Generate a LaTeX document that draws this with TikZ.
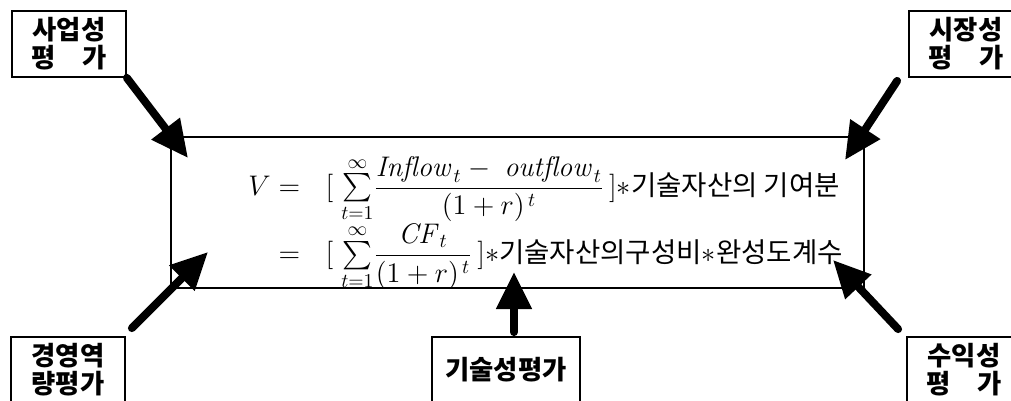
\documentclass[tikz,border=0pt]{standalone}
\usepackage{amsmath}
\usepackage{fontspec}
\newfontfamily\kr{Noto Sans CJK KR}
\newcommand{\krtext}[1]{\text{\kr\fontsize{14}{16}\selectfont #1}}
\usetikzlibrary{arrows.meta}

\begin{document}
\begin{tikzpicture}[x=0.02cm,y=-0.02cm]
	\tikzstyle{evalbox}=[draw, line width=1pt, align=center, inner sep=0pt, font=\kr\bfseries\fontsize{15}{16}\selectfont, minimum width=2.28cm, minimum height=1.32cm]
	\tikzstyle{bigarrow}=[line width=4.5pt, line cap=round, -{Triangle[length=0.74cm, width=0.68cm]}]
	\useasboundingbox (0,0) rectangle (1011,400);
	\node (main) [draw, line width=1pt, minimum width=13.86cm, minimum height=3.02cm] at (517.5,212.5) {};
	\node (formula) [anchor=west, inner sep=0pt, scale=1.12, transform shape, font=\fontsize{14.4}{17}\selectfont] at (248,223) {$\begin{aligned}
		V &= \hspace{9pt}[\;{\textstyle\sum\limits_{t=1}^{\infty}}\frac{\mathit{Inflow}_{\,t}-\;\mathit{outflow}_{\,t}}{(1+r)^{\,t}}\,]{\ast}\krtext{기술자산의 기여분}\\[-3.5pt]
		  &= \hspace{9pt}[\;{\textstyle\sum\limits_{t=1}^{\infty}}\frac{\;\mathit{CF}_{\,t}\;}{(1+r)^{\,t}}\,]{\ast}\krtext{기술자산의구성비}{\ast}\krtext{완성도계수}
	\end{aligned}$};
	\node (saup) [evalbox] at (69,44) {사업성\\평\hspace{1em}가};
	\node (sijang) [evalbox] at (966,44) {시장성\\평\hspace{1em}가};
	\node (gyeong) [evalbox] at (68,370) {경영역\\량평가};
	\node (suik) [evalbox] at (964,370) {수익성\\평\hspace{1em}가};
	\node (gisul) [evalbox, minimum width=2.96cm] at (506,370) {기술성평가};
	\coordinate (tipTL) at (188,158);
	\coordinate (tipTR) at (845,160);
	\coordinate (tipBL) at (208,252);
	\coordinate (tipBR) at (833,260);
	\coordinate (tipB) at (514,272);
	\draw[bigarrow] (saup.south east) -- (tipTL);
	\draw[bigarrow] ([xshift=-0.22cm, yshift=-0.06cm]sijang.south west) -- (tipTR);
	\draw[bigarrow] ([xshift=0.12cm, yshift=0.16cm]gyeong.north east) -- (tipBL);
	\draw[bigarrow] ([xshift=-0.16cm, yshift=0.14cm]suik.north west) -- (tipBR);
	\draw[bigarrow] ([yshift=0.08cm]gisul.north -| tipB) -- (tipB);
\end{tikzpicture}
\end{document}
